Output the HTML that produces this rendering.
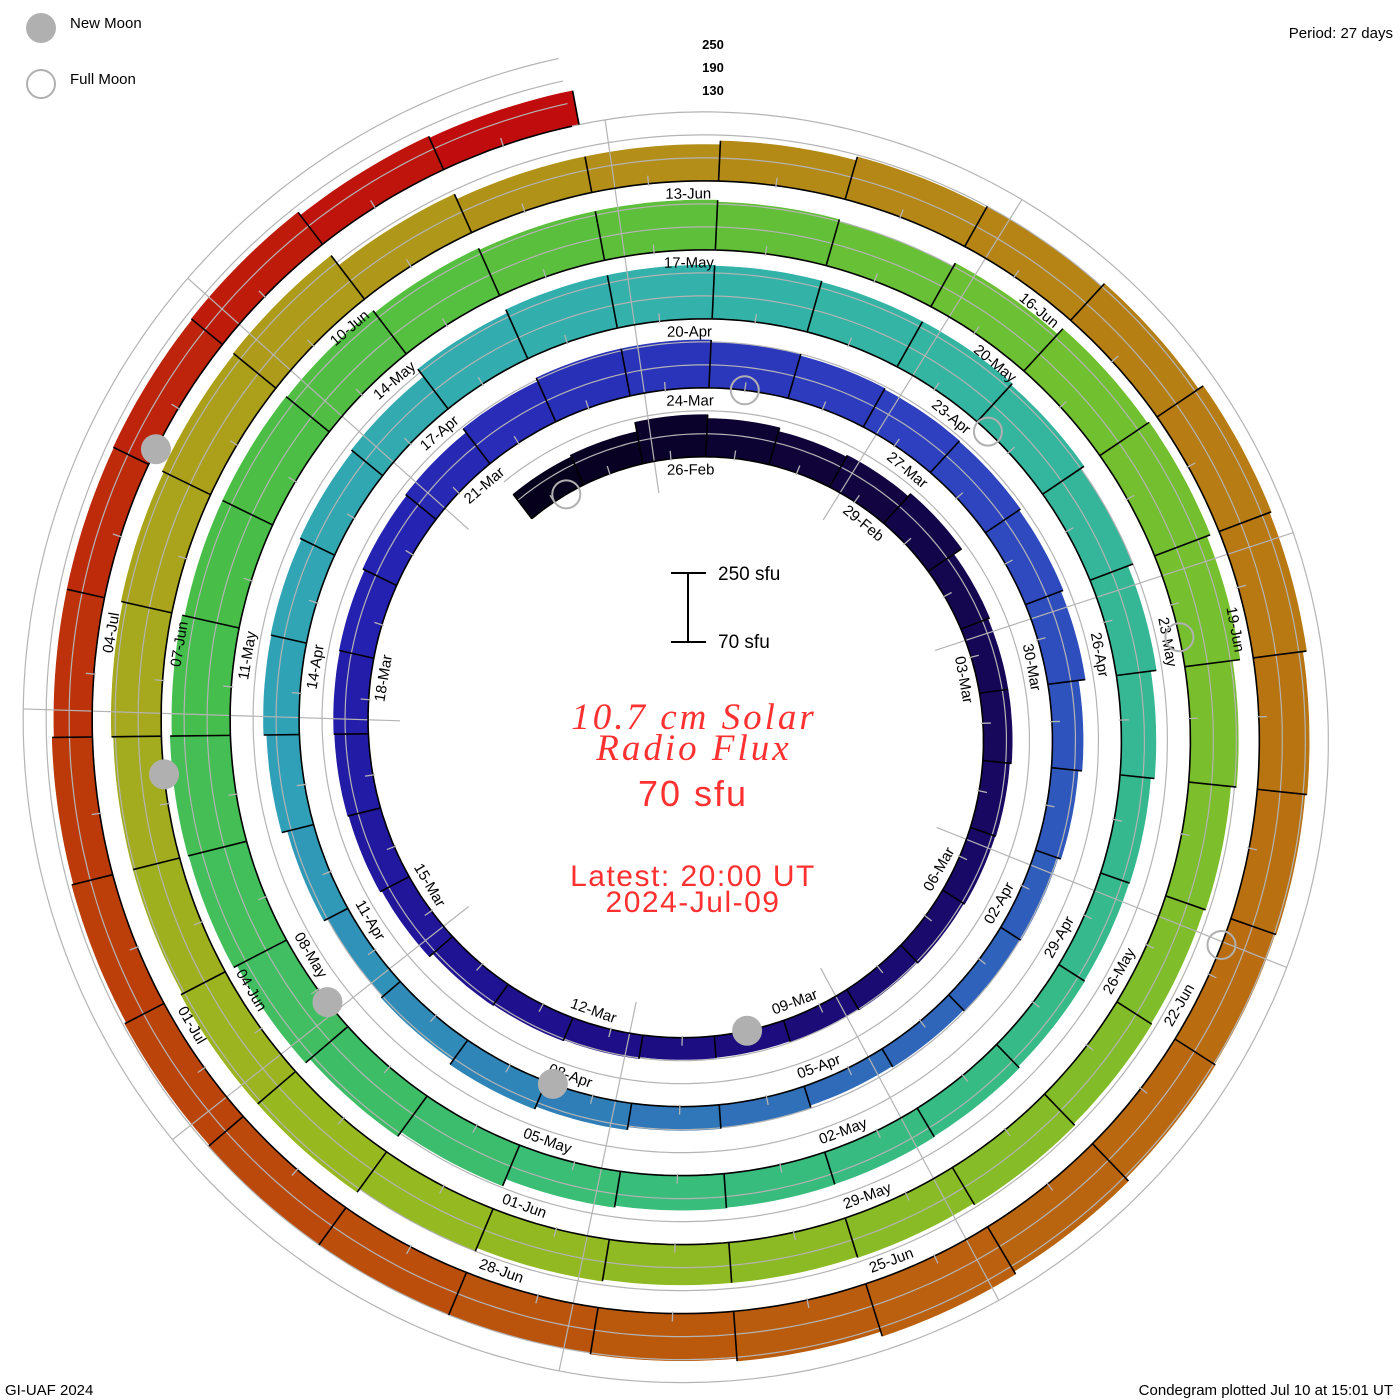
<!DOCTYPE html>
<html><head><meta charset="utf-8">
<style>
html,body{margin:0;padding:0;background:#fff;}
svg{display:block;}
text{font-family:"Liberation Sans",sans-serif;}
</style></head>
<body>
<svg id="chart" width="1400" height="1400" viewBox="0 0 1400 1400" xmlns="http://www.w3.org/2000/svg">
  <g id="bars"></g>
  <g id="refs"></g>
  <g id="radials"></g>
  <g id="bounds"></g>
  <g id="labels"></g>
  <g id="moons"></g>

  <g>
    <circle cx="41" cy="28" r="15" fill="#b0b0b0"/>
    <text x="70" y="28" font-size="15" fill="#000">New Moon</text>
    <circle cx="41" cy="84" r="14" fill="none" stroke="#b0b0b0" stroke-width="2"/>
    <text x="70" y="84" font-size="15" fill="#000">Full Moon</text>
  </g>
  <text x="1393" y="38" font-size="15" text-anchor="end">Period: 27 days</text>
  <text x="713" y="49" font-size="13" text-anchor="middle" font-weight="bold">250</text>
  <text x="713" y="72" font-size="13" text-anchor="middle" font-weight="bold">190</text>
  <text x="713" y="95" font-size="13" text-anchor="middle" font-weight="bold">130</text>
  <text x="5" y="1395" font-size="15">GI-UAF 2024</text>
  <text x="1393" y="1395" font-size="15" text-anchor="end">Condegram plotted Jul 10 at 15:01 UT</text>

  <g stroke="#000" stroke-width="2">
    <line x1="688" y1="573" x2="688" y2="642"/>
    <line x1="671" y1="573" x2="706" y2="573"/>
    <line x1="671" y1="642" x2="706" y2="642"/>
  </g>
  <text x="718" y="580" font-size="19">250 sfu</text>
  <text x="718" y="648" font-size="19">70 sfu</text>

  <g fill="#ff3030" text-anchor="middle">
    <text x="694" y="729" font-size="37" font-style="italic" letter-spacing="3" style="font-family:'Liberation Serif',serif">10.7 cm Solar</text>
    <text x="694" y="760" font-size="37" font-style="italic" letter-spacing="3" style="font-family:'Liberation Serif',serif">Radio Flux</text>
    <text x="693" y="806" font-size="36" letter-spacing="2">70 sfu</text>
    <text x="693" y="886" font-size="30" letter-spacing="1.5">Latest: 20:00 UT</text>
    <text x="693" y="912" font-size="30" letter-spacing="1.5">2024-Jul-09</text>
  </g>
</svg>
<script>
// ---- data ----
const startDay = -2; // index relative to 26-Feb (first bar = 24-Feb)
const fluxTurn1 = [150,155,180,170,160,165,175,150,145,145,140,138,135,132,128,126,127,132,135,138,150,155,158,160,162,168,172];
const fluxTurn2 = [185,195,195,190,185,182,180,175,168,150,140,132,128,125,122,128,132,140,148,135,130,140,155,163,165,170,175];
const fluxTurn3 = [200,210,210,208,205,205,200,190,175,160,150,148,150,155,157,158,160,165,185,200,215,225,227,222,215,215,212];
const fluxTurn4 = [205,200,200,195,190,200,220,225,215,195,180,175,178,183,178,175,175,180,190,200,200,195,195,200,205,210,213];
const fluxTurn5 = [180,165,165,175,185,190,200,215,210,200,195,192,195,205,213,200,193,190,190,188,185,180,175,170,170,172,175,165,160];
const flux = fluxTurn1.concat(fluxTurn2, fluxTurn3, fluxTurn4, fluxTurn5);
const labelDays = [];
for (let d = 0; d <= 129; d += 3) labelDays.push(d);
const labelText = ["26-Feb","29-Feb","03-Mar","06-Mar","09-Mar","12-Mar","15-Mar","18-Mar","21-Mar","24-Mar","27-Mar","30-Mar","02-Apr","05-Apr","08-Apr","11-Apr","14-Apr","17-Apr","20-Apr","23-Apr","26-Apr","29-Apr","02-May","05-May","08-May","11-May","14-May","17-May","20-May","23-May","26-May","29-May","01-Jun","04-Jun","07-Jun","10-Jun","13-Jun","16-Jun","19-Jun","22-Jun","25-Jun","28-Jun","01-Jul","04-Jul"];
const newMoonT = [13.375, 42.76, 72.14, 101.53, 130.96];
const fullMoonT = [-1.48, 28.29, 57.99, 87.58, 117.05];
const refLevels = [130, 190, 250];

// ---- geometry ----
const CX = 693, CY = 730, R0 = 273, SP = 69, DEG = 360/27, PXS = 69/180, BASE = 70;
const NS = "http://www.w3.org/2000/svg";
function rB(th){ return R0 + SP*th/360; }
function pt(th, r){ const a = th*Math.PI/180; return [CX + r*Math.sin(a), CY - r*Math.cos(a)]; }
function hScale(f){ return (f - BASE)*PXS; }
function mk(tag, attrs, parent){ const e = document.createElementNS(NS, tag); for (const k in attrs) e.setAttribute(k, attrs[k]); parent.appendChild(e); return e; }
const colorD = [-2,5,15,22,30,40,47,55,68,76,85,98,103,108,114,122,128,134];
const colorH = ["#06001c","#150650","#1e0e88","#2420b0","#2e40c0","#2f70b8","#30a0b8","#33b3a8","#38bd7a","#48be48","#70c030","#98b820","#aaa41c","#b38e18","#b87812","#ba580c","#bc3a0a","#c00c0c"];
function hex2(c){ return [1,3,5].map(i=>parseInt(c.substr(i,2),16)); }
function colorAt(d){
  for (let i=0;i<colorD.length-1;i++){
    if (d <= colorD[i+1]){ const f=(d-colorD[i])/(colorD[i+1]-colorD[i]); const a=hex2(colorH[i]), b=hex2(colorH[i+1]);
      return "rgb("+a.map((v,j)=>Math.round(v+(b[j]-v)*f)).join(",")+")"; }
  }
  return colorH[colorH.length-1];
}
const gBars = document.getElementById('bars'), gRefs = document.getElementById('refs'), gRad = document.getElementById('radials'),
      gB = document.getElementById('bounds'), gL = document.getElementById('labels'), gM = document.getElementById('moons');

// bars
const thStart = (startDay-0.8)*DEG, thEnd = (startDay+flux.length-1+0.2)*DEG;
flux.forEach((v, i) => {
  const d = startDay + i, t0 = (d-0.8)*DEG, t1 = (d+0.2)*DEG, h = hScale(v);
  const inner = [], outer = [];
  for (let k=0;k<=12;k++){ const t = t0+(t1-t0)*k/12; inner.push(pt(t, rB(t))); outer.push(pt(t, rB(t)+h)); }
  const pts = inner.concat(outer.reverse()).map(p=>p[0].toFixed(1)+","+p[1].toFixed(1)).join(" ");
  const el = mk('polygon', {points: pts, fill: colorAt(d), stroke: colorAt(d), 'stroke-width': 0.6}, gBars);
  
  
});

// reference spirals
refLevels.forEach(lv => {
  let dstr = "";
  for (let t = thStart; t <= thEnd; t += 1){ const p = pt(t, rB(t)+hScale(lv)); dstr += (dstr?"L":"M")+p[0].toFixed(1)+","+p[1].toFixed(1); }
  const el = mk('path', {d: dstr, fill: 'none', stroke: '#b4b4b4', 'stroke-width': 1.2}, gRefs);
  
  
});

// radial gray lines
for (let k=0;k<9;k++){
  const th = -8.2 + 40*k;
  const a = pt(th, rB(th)-32), b = pt(th+1800, rB(th+1800));
  const el = mk('line', {x1:a[0],y1:a[1],x2:b[0],y2:b[1],stroke:'#b4b4b4','stroke-width':1.2}, gRad);
  
  
}

// baseline
let bd = "";
for (let t = thStart; t <= thEnd; t += 1){ const p = pt(t, rB(t)); bd += (bd?"L":"M")+p[0].toFixed(1)+","+p[1].toFixed(1); }
const base = mk('path', {d: bd, fill:'none', stroke:'#000', 'stroke-width':1.6}, gB);



// day boundaries and ticks
for (let i=0;i<=flux.length;i++){
  const d = startDay + i, t = (d-0.8)*DEG;
  const hPrev = i>0 ? hScale(flux[i-1]) : 0, hNext = i<flux.length ? hScale(flux[i]) : 0;
  const a = pt(t, rB(t)), b = pt(t, rB(t)+Math.max(hPrev,hNext));
  const el = mk('line', {x1:a[0],y1:a[1],x2:b[0],y2:b[1],stroke:'#000','stroke-width':1.6}, gB);
  
  
  if (i<flux.length){
    const tt = (d-0.35)*DEG, c = pt(tt, rB(tt)-2), e2 = pt(tt, rB(tt)+8);
    const tk = mk('line', {x1:c[0],y1:c[1],x2:e2[0],y2:e2[1],stroke:'#b4b4b4','stroke-width':1.3}, gB);
    
    
  }
}

// date labels
labelDays.forEach((d, i) => {
  const th = d*DEG - 0.5, p = pt(th, rB(th)-13);
  let m = ((th % 360) + 360) % 360, rot = (m > 90 && m < 270) ? m - 180 : m;
  const el = mk('text', {x:p[0].toFixed(1), y:p[1].toFixed(1), 'font-size':15, 'text-anchor':'middle', 'dominant-baseline':'central',
    transform:'rotate('+rot.toFixed(1)+' '+p[0].toFixed(1)+' '+p[1].toFixed(1)+')'}, gL);
  el.textContent = labelText[i];
  
  
});

// moons
newMoonT.forEach(t => {
  const th = (t-0.64)*DEG, p = pt(th, rB(th));
  const el = mk('circle', {cx:p[0], cy:p[1], r:15, fill:'#b0b0b0'}, gM);
  
  
});
fullMoonT.forEach(t => {
  const th = (t-0.64)*DEG, p = pt(th, rB(th));
  const el = mk('circle', {cx:p[0], cy:p[1], r:14, fill:'none', stroke:'#b0b0b0', 'stroke-width':2}, gM);
  
  
});
</script>
</body></html>
